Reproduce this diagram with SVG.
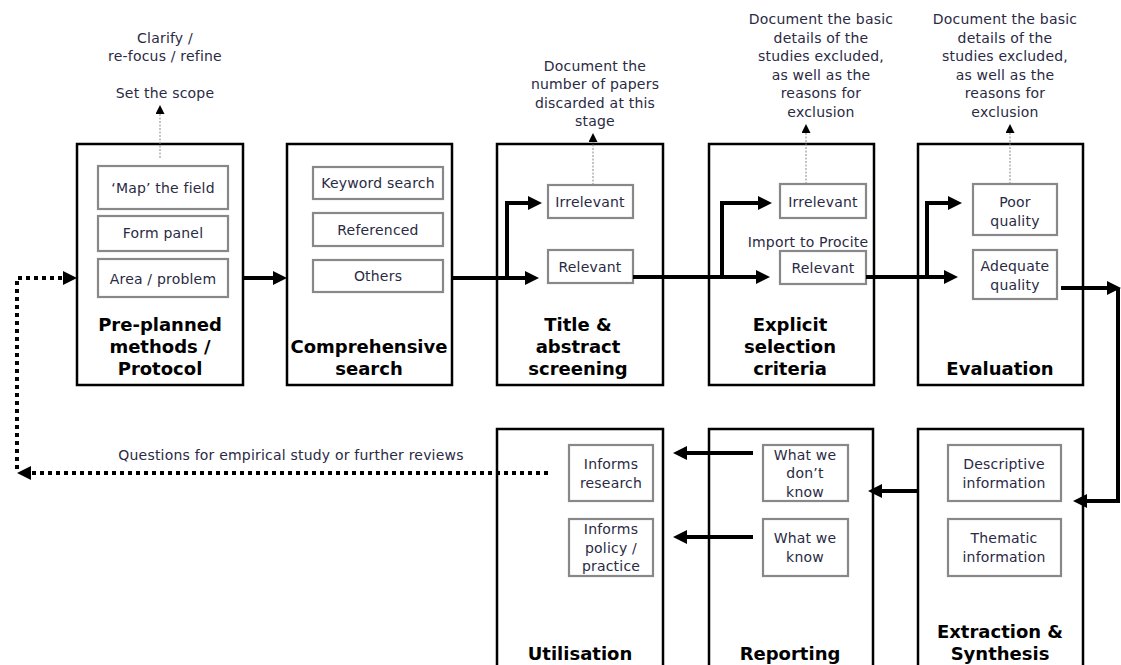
<svg xmlns="http://www.w3.org/2000/svg" width="1121" height="665" viewBox="0 0 1121 665">
<defs>
<style>
.stage{fill:#fff;stroke:#000;stroke-width:2.5}
.item{fill:#fff;stroke:#888;stroke-width:2.2}
.t{font-family:"DejaVu Sans",Verdana,sans-serif;font-size:14px;fill:#2a2a44;text-anchor:middle;letter-spacing:0.2px}
.title{font-family:"DejaVu Sans",Verdana,sans-serif;font-size:18px;font-weight:bold;fill:#000;text-anchor:middle}
.thick{fill:none;stroke:#000;stroke-width:4}
.dot{fill:none;stroke:#888;stroke-width:1;stroke-dasharray:2 1.5}
.fb{fill:none;stroke:#000;stroke-width:4;stroke-dasharray:4 4}
</style>
<marker id="ah" markerUnits="userSpaceOnUse" markerWidth="16" markerHeight="14" refX="2" refY="7" orient="auto">
<path d="M0,0 L14,7 L0,14 z" fill="#000"/>
</marker>
<marker id="sh" markerUnits="userSpaceOnUse" markerWidth="10" markerHeight="10" refX="1" refY="4.5" orient="auto">
<path d="M0,0 L9,4.5 L0,9 z" fill="#000"/>
</marker>
</defs>
<rect width="1121" height="665" fill="#fff"/>

<g id="annotations">
<text class="t" x="165" y="43">Clarify /</text>
<text class="t" x="165" y="61">re-focus / refine</text>
<text class="t" x="165" y="98">Set the scope</text>
<text class="t" x="595" y="71">Document the</text>
<text class="t" x="595" y="89">number of papers</text>
<text class="t" x="595" y="108">discarded at this</text>
<text class="t" x="595" y="126">stage</text>
<text class="t" x="821" y="24">Document the basic</text>
<text class="t" x="821" y="42.5">details of the</text>
<text class="t" x="821" y="61">studies excluded,</text>
<text class="t" x="821" y="79.5">as well as the</text>
<text class="t" x="821" y="98">reasons for</text>
<text class="t" x="821" y="116.5">exclusion</text>
<text class="t" x="1005" y="24">Document the basic</text>
<text class="t" x="1005" y="42.5">details of the</text>
<text class="t" x="1005" y="61">studies excluded,</text>
<text class="t" x="1005" y="79.5">as well as the</text>
<text class="t" x="1005" y="98">reasons for</text>
<text class="t" x="1005" y="116.5">exclusion</text>
<text class="t" x="291" y="460">Questions for empirical study or further reviews</text>
</g>

<g id="stage1">
<rect class="stage" x="77" y="144" width="166" height="241"/>
<rect class="item" x="98" y="166" width="130" height="43"/>
<text class="t" x="163" y="193">‘Map’ the field</text>
<rect class="item" x="98" y="216" width="130" height="35"/>
<text class="t" x="163" y="238">Form panel</text>
<rect class="item" x="98" y="259" width="130" height="38"/>
<text class="t" x="163" y="284">Area / problem</text>
<text class="title" x="160" y="331">Pre-planned</text>
<text class="title" x="160" y="353">methods /</text>
<text class="title" x="160" y="375">Protocol</text>
</g>

<g id="stage2">
<rect class="stage" x="287" y="144" width="165" height="241"/>
<rect class="item" x="313" y="167" width="130" height="32"/>
<text class="t" x="378" y="188">Keyword search</text>
<rect class="item" x="313" y="213" width="130" height="33"/>
<text class="t" x="378" y="235">Referenced</text>
<rect class="item" x="313" y="260" width="130" height="32"/>
<text class="t" x="378" y="281">Others</text>
<text class="title" x="369" y="353">Comprehensive</text>
<text class="title" x="369" y="375">search</text>
</g>

<g id="stage3">
<rect class="stage" x="497" y="144" width="166" height="241"/>
<rect class="item" x="548" y="185" width="85" height="33"/>
<text class="t" x="590" y="207">Irrelevant</text>
<rect class="item" x="548" y="250" width="85" height="33"/>
<text class="t" x="590" y="272">Relevant</text>
<text class="title" x="578" y="331">Title &amp;</text>
<text class="title" x="578" y="353">abstract</text>
<text class="title" x="578" y="375">screening</text>
</g>

<g id="stage4">
<rect class="stage" x="709" y="144" width="165" height="241"/>
<rect class="item" x="780" y="184" width="86" height="34"/>
<text class="t" x="823" y="207">Irrelevant</text>
<text class="t" x="808" y="247">Import to Procite</text>
<rect class="item" x="780" y="251" width="86" height="33"/>
<text class="t" x="823" y="273">Relevant</text>
<text class="title" x="790" y="331">Explicit</text>
<text class="title" x="790" y="353">selection</text>
<text class="title" x="790" y="375">criteria</text>
</g>

<g id="stage5">
<rect class="stage" x="918" y="144" width="165" height="241"/>
<rect class="item" x="973" y="184" width="84" height="51"/>
<text class="t" x="1015" y="207">Poor</text>
<text class="t" x="1015" y="226">quality</text>
<rect class="item" x="973" y="250" width="84" height="49"/>
<text class="t" x="1015" y="271">Adequate</text>
<text class="t" x="1015" y="290">quality</text>
<text class="title" x="1000" y="375">Evaluation</text>
</g>

<g id="stage6">
<rect class="stage" x="918" y="429" width="165" height="250"/>
<rect class="item" x="948" y="445" width="113" height="56"/>
<text class="t" x="1004" y="469">Descriptive</text>
<text class="t" x="1004" y="488">information</text>
<rect class="item" x="948" y="519" width="113" height="57"/>
<text class="t" x="1004" y="543">Thematic</text>
<text class="t" x="1004" y="562">information</text>
<text class="title" x="1000" y="638">Extraction &amp;</text>
<text class="title" x="1000" y="660">Synthesis</text>
</g>

<g id="stage7">
<rect class="stage" x="709" y="429" width="164" height="250"/>
<rect class="item" x="763" y="445" width="85" height="56"/>
<text class="t" x="805" y="460">What we</text>
<text class="t" x="805" y="478">don’t</text>
<text class="t" x="805" y="497">know</text>
<rect class="item" x="763" y="519" width="85" height="57"/>
<text class="t" x="805" y="543">What we</text>
<text class="t" x="805" y="562">know</text>
<text class="title" x="790" y="660">Reporting</text>
</g>

<g id="stage8">
<rect class="stage" x="497" y="429" width="166" height="250"/>
<rect class="item" x="569" y="445" width="84" height="56"/>
<text class="t" x="611" y="469">Informs</text>
<text class="t" x="611" y="488">research</text>
<rect class="item" x="569" y="519" width="84" height="57"/>
<text class="t" x="611" y="534">Informs</text>
<text class="t" x="611" y="553">policy /</text>
<text class="t" x="611" y="571">practice</text>
<text class="title" x="580" y="660">Utilisation</text>
</g>

<g id="connectors">
<path class="dot" d="M160,158 V113" marker-end="url(#sh)"/>
<path class="dot" d="M593,185 V141" marker-end="url(#sh)"/>
<path class="dot" d="M806,184 V132" marker-end="url(#sh)"/>
<path class="dot" d="M1010,184 V132" marker-end="url(#sh)"/>
<path class="thick" d="M243,278 H275" marker-end="url(#ah)"/>
<path class="thick" d="M452,278 H527" marker-end="url(#ah)"/>
<path class="thick" d="M507,278 V203 H530" marker-end="url(#ah)"/>
<path class="thick" d="M633,277 H758" marker-end="url(#ah)"/>
<path class="thick" d="M722,277 V203 H760" marker-end="url(#ah)"/>
<path class="thick" d="M866,277 H946" marker-end="url(#ah)"/>
<path class="thick" d="M927,277 V203 H950" marker-end="url(#ah)"/>
<path class="thick" d="M1061,288 H1109" marker-end="url(#ah)"/>
<path class="thick" d="M1118,288 V501 H1085" marker-end="url(#ah)"/>
<path class="thick" d="M918,491 H880" marker-end="url(#ah)"/>
<path class="thick" d="M753,453 H685" marker-end="url(#ah)"/>
<path class="thick" d="M753,537 H685" marker-end="url(#ah)"/>
<path class="fb" d="M548,473 H29" marker-end="url(#ah)"/>
<path class="fb" d="M17,469 V278 H65" marker-end="url(#ah)"/>
</g>
</svg>
